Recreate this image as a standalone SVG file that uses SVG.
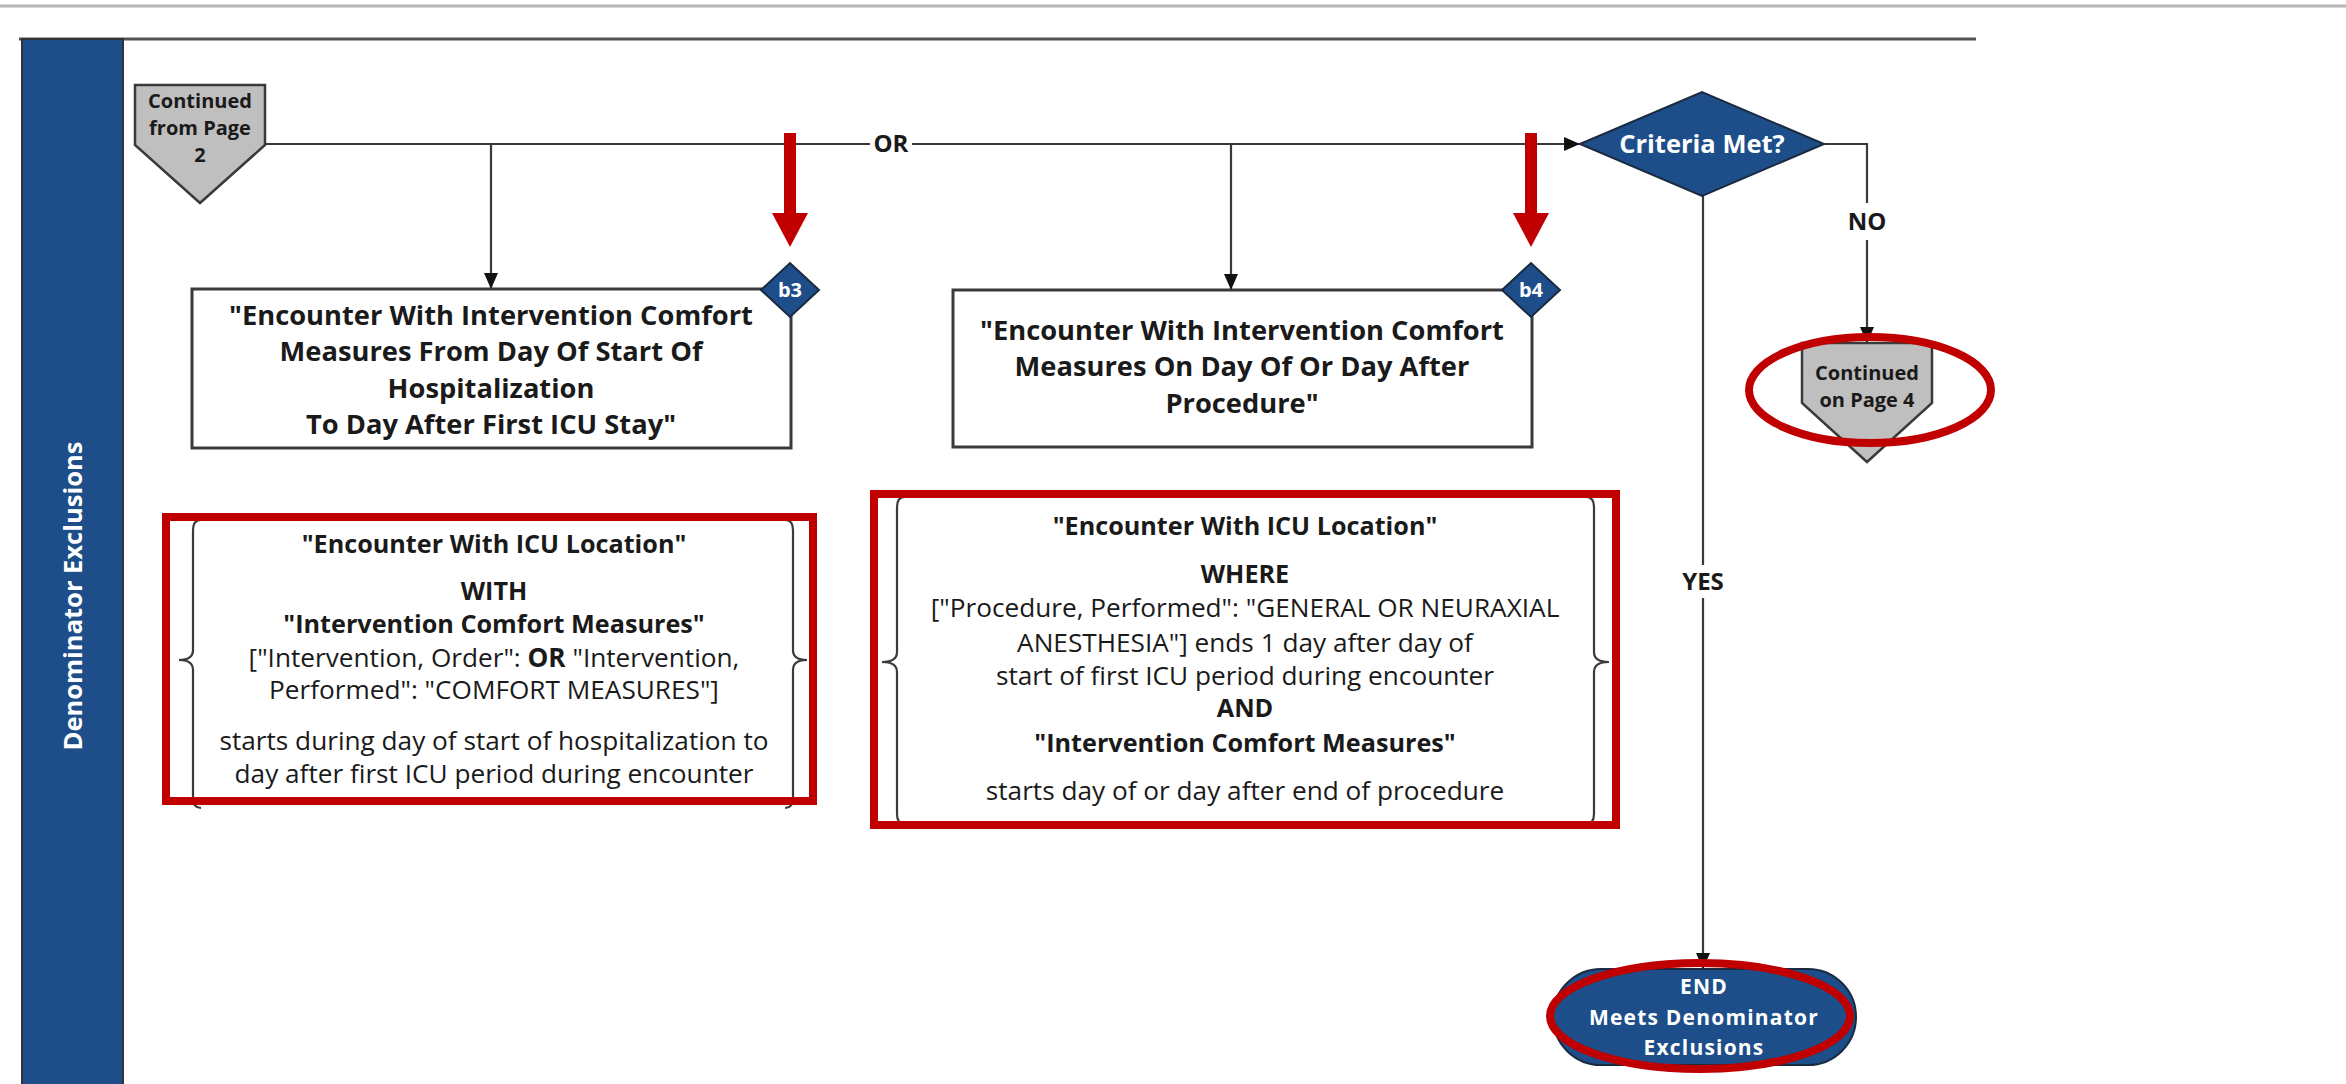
<svg xmlns="http://www.w3.org/2000/svg" width="2346" height="1084" viewBox="0 0 2346 1084">
  <style>
    text { font-family: "Open Sans", "Noto Sans", "Liberation Sans", sans-serif; fill: #1a1a1a; }
    .b { font-weight: bold; }
    .w { fill: #ffffff; font-weight: bold; }
    .mid { text-anchor: middle; }
    .conn { stroke: #3a3a3a; stroke-width: 2.2; fill: none; }
    .box { fill: #ffffff; stroke: #3a3a3a; stroke-width: 3; }
    .blue { fill: #1d4e89; stroke: #1a2a40; stroke-width: 2; }
    .page { fill: #bfbfbf; stroke: #3a3a3a; stroke-width: 2.5; }
    .brace { fill: none; stroke: #3a3a3a; stroke-width: 2.2; }
    .hl { fill: none; stroke: #c00000; stroke-width: 8; }
    .red { fill: #c00000; }
    .title { font-size: 27.3px; }
    .body { font-size: 26.2px; }
    .body.b { font-size: 25.2px; }
    .lane { font-size: 25.5px; }
    .edge { font-size: 24px; font-weight: bold; }
    .pg { font-size: 20px; font-weight: bold; }
    .term { font-size: 21px; letter-spacing: 1.2px; }
  </style>
  <defs>
    <marker id="arrow" markerUnits="userSpaceOnUse" markerWidth="16" markerHeight="14" refX="16" refY="7" orient="auto">
      <path d="M0,0 L16,7 L0,14 Z" fill="#111"/>
    </marker>
  </defs>

  <!-- page rule and swimlane frame -->
  <line x1="0" y1="6" x2="2346" y2="6" stroke="#b4b4b4" stroke-width="3"/>
  <line x1="19" y1="39" x2="1976" y2="39" stroke="#555" stroke-width="3"/>
  <g id="lane">
    <rect x="22" y="39" width="101" height="1050" fill="#1d4e89" stroke="#333" stroke-width="2"/>
    <text class="w lane mid" transform="translate(82,596) rotate(-90)">Denominator Exclusions</text>
  </g>

  <!-- connectors -->
  <g id="connectors">
    <line class="conn" x1="265" y1="144" x2="870" y2="144"/>
    <line class="conn" x1="912" y1="144" x2="1580" y2="144" marker-end="url(#arrow)"/>
    <text class="edge mid" x="891" y="152">OR</text>
    <line class="conn" x1="491" y1="144" x2="491" y2="289" marker-end="url(#arrow)"/>
    <line class="conn" x1="1231" y1="144" x2="1231" y2="290" marker-end="url(#arrow)"/>
    <polyline class="conn" points="1824,144 1867,144 1867,203"/>
    <line class="conn" x1="1867" y1="240" x2="1867" y2="343" marker-end="url(#arrow)"/>
    <text class="edge mid" x="1867" y="230">NO</text>
    <line class="conn" x1="1703" y1="196" x2="1703" y2="565"/>
    <line class="conn" x1="1703" y1="598" x2="1703" y2="969" marker-end="url(#arrow)"/>
    <text class="edge mid" x="1703" y="590">YES</text>
  </g>

  <!-- off-page connector in -->
  <g id="from-page-2">
    <polygon class="page" points="135,85 265,85 265,145 200,203 135,145"/>
    <text class="pg mid" x="200" y="108">Continued</text>
    <text class="pg mid" x="200" y="135">from Page</text>
    <text class="pg mid" x="200" y="162">2</text>
  </g>

  <!-- step b3 -->
  <g id="step-b3">
    <rect class="box" x="192" y="289" width="599" height="159"/>
    <text class="b title mid" x="491" y="325">"Encounter With Intervention Comfort</text>
    <text class="b title mid" x="491" y="361">Measures From Day Of Start Of</text>
    <text class="b title mid" x="491" y="398">Hospitalization</text>
    <text class="b title mid" x="491" y="434">To Day After First ICU Stay"</text>
    <polygon class="blue" points="761,290 790,263 819,290 790,317"/>
    <text class="w mid" x="790" y="297" font-size="20">b3</text>
  </g>

  <!-- step b4 -->
  <g id="step-b4">
    <rect class="box" x="953" y="290" width="579" height="157"/>
    <text class="b title mid" x="1242" y="340">"Encounter With Intervention Comfort</text>
    <text class="b title mid" x="1242" y="376">Measures On Day Of Or Day After</text>
    <text class="b title mid" x="1242" y="413">Procedure"</text>
    <polygon class="blue" points="1502,290 1531,263 1560,290 1531,317"/>
    <text class="w mid" x="1531" y="297" font-size="20">b4</text>
  </g>

  <!-- pointer arrows -->
  <g id="pointers">
    <rect class="red" x="784" y="133" width="12" height="82"/>
    <polygon class="red" points="772,213 808,213 790,247"/>
    <rect class="red" x="1525" y="133" width="12" height="82"/>
    <polygon class="red" points="1513,213 1549,213 1531,247"/>
  </g>

  <!-- decision -->
  <g id="criteria-met">
    <polygon class="blue" points="1580,144 1702,92 1824,144 1702,196"/>
    <text class="w mid" x="1702" y="153" font-size="25.5">Criteria Met?</text>
  </g>

  <!-- off-page connector out -->
  <g id="to-page-4">
    <polygon class="page" points="1802,343 1932,343 1932,403 1867,462 1802,403"/>
    <text class="pg mid" x="1867" y="380">Continued</text>
    <text class="pg mid" x="1867" y="407">on Page 4</text>
    <ellipse class="hl" cx="1870" cy="390" rx="121" ry="53"/>
  </g>

  <!-- terminator -->
  <g id="end">
    <rect class="blue" x="1553" y="969" width="303" height="96" rx="48" ry="48"/>
    <text class="w term mid" x="1704" y="994">END</text>
    <text class="w term mid" x="1704" y="1025">Meets Denominator</text>
    <text class="w term mid" x="1704" y="1055">Exclusions</text>
    <ellipse class="hl" cx="1700" cy="1016" rx="150" ry="53"/>
  </g>

  <!-- logic note for b3 -->
  <g id="note-b3">
    <path class="brace" d="M201,520 Q193,520 193,530 L193,650 Q193,660 179,660 Q193,660 193,670 L193,798 Q193,808 201,808"/>
    <path class="brace" d="M785,520 Q793,520 793,530 L793,650 Q793,660 807,660 Q793,660 793,670 L793,798 Q793,808 785,808"/>
    <text class="b body mid" x="494" y="553">"Encounter With ICU Location"</text>
    <text class="b body mid" x="494" y="600">WITH</text>
    <text class="b body mid" x="494" y="633">"Intervention Comfort Measures"</text>
    <text class="body mid" x="494" y="667">["Intervention, Order": <tspan class="b">OR</tspan> "Intervention,</text>
    <text class="body mid" x="494" y="699">Performed": "COMFORT MEASURES"]</text>
    <text class="body mid" x="494" y="750">starts during day of start of hospitalization to</text>
    <text class="body mid" x="494" y="783">day after first ICU period during encounter</text>
    <rect class="hl" x="166" y="517" width="647" height="284"/>
  </g>

  <!-- logic note for b4 -->
  <g id="note-b4">
    <path class="brace" d="M905,497 Q897,497 897,507 L897,652 Q897,662 882,662 Q897,662 897,672 L897,814 Q897,824 905,824"/>
    <path class="brace" d="M1586,497 Q1594,497 1594,507 L1594,652 Q1594,662 1609,662 Q1594,662 1594,672 L1594,814 Q1594,824 1586,824"/>
    <text class="b body mid" x="1245" y="535">"Encounter With ICU Location"</text>
    <text class="b body mid" x="1245" y="583">WHERE</text>
    <text class="body mid" x="1245" y="617">["Procedure, Performed": "GENERAL OR NEURAXIAL</text>
    <text class="body mid" x="1245" y="652">ANESTHESIA"] ends 1 day after day of</text>
    <text class="body mid" x="1245" y="685">start of first ICU period during encounter</text>
    <text class="b body mid" x="1245" y="717">AND</text>
    <text class="b body mid" x="1245" y="752">"Intervention Comfort Measures"</text>
    <text class="body mid" x="1245" y="800">starts day of or day after end of procedure</text>
    <rect class="hl" x="874" y="494" width="742" height="331"/>
  </g>
</svg>
